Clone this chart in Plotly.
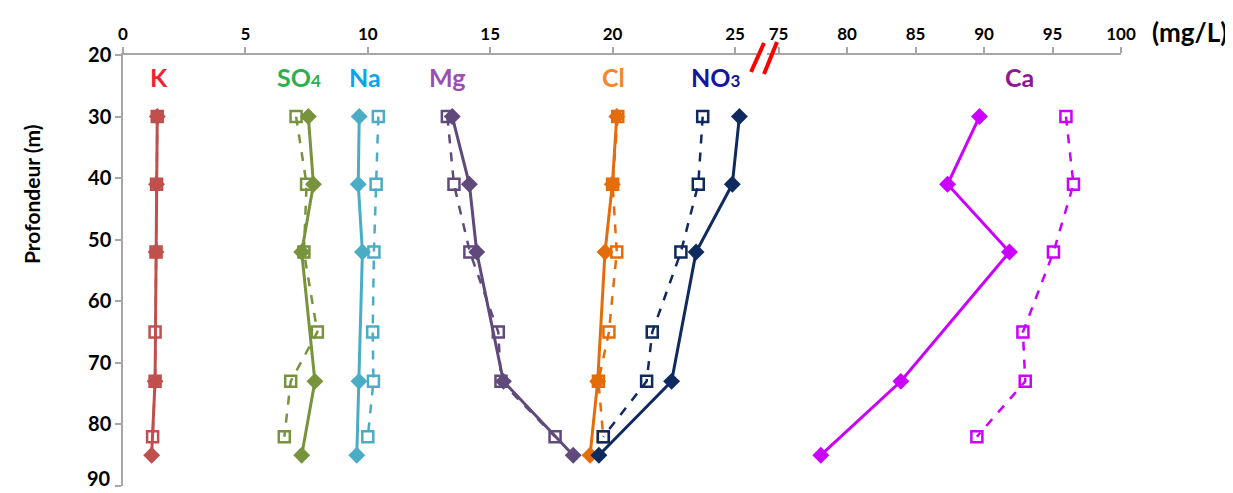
import plotly.graph_objects as go

# Depths (m)
depth_a = [30, 41, 52, 73, 85]          # solid series (diamonds)
depth_b = [30, 41, 52, 65, 73, 82]      # dashed series (open squares)

# Concentrations (mg/L) - solid series
K_a = [1.40, 1.37, 1.35, 1.31, 1.17]
SO4_a = [7.57, 7.78, 7.30, 7.84, 7.30]
Na_a = [9.65, 9.61, 9.78, 9.64, 9.55]
Mg_a = [13.45, 14.15, 14.45, 15.54, 18.39]
Cl_a = [20.17, 19.99, 19.69, 19.39, 19.08]
NO3_a = [25.18, 24.89, 23.41, 22.41, 19.44]
Ca_a = [89.67, 87.34, 91.86, 83.93, 78.09]

# Concentrations (mg/L) - dashed series
K_b = [1.40, 1.37, 1.35, 1.31, 1.31, 1.21]
SO4_b = [7.07, 7.50, 7.39, 7.94, 6.85, 6.59]
Na_b = [10.43, 10.34, 10.25, 10.20, 10.23, 10.00]
Mg_b = [13.25, 13.52, 14.17, 15.33, 15.44, 17.65]
Cl_b = [20.21, 20.00, 20.17, 19.85, 19.42, 19.62]
NO3_b = [23.68, 23.50, 22.79, 21.62, 21.39, 19.62]
Ca_b = [95.98, 96.53, 95.07, 92.84, 93.01, 89.48]

x_ticks_left = [0, 5, 10, 15, 20, 25]
x_ticks_right = [75, 80, 85, 90, 95, 100]
y_ticks = [20, 30, 40, 50, 60, 70, 80, 90]

series = [
    ("K", K_a, K_b, "#C0504D", "x"),
    ("SO4", SO4_a, SO4_b, "#77933C", "x"),
    ("Na", Na_a, Na_b, "#4BACC6", "x"),
    ("Mg", Mg_a, Mg_b, "#604A7B", "x"),
    ("Cl", Cl_a, Cl_b, "#E46C0A", "x"),
    ("NO3", NO3_a, NO3_b, "#0F2A5E", "x"),
    ("Ca", Ca_a, Ca_b, "#CC00FF", "x2"),
]

labels = [
    ("K", 1.47, "#EE2530", "x"),
    ("SO<span style='font-size:17px'>4</span>", 7.2, "#2DB04B", "x"),
    ("Na", 9.9, "#0AA5E8", "x"),
    ("Mg", 13.25, "#9A4FB0", "x"),
    ("Cl", 20.05, "#F7862A", "x"),
    ("NO<span style='font-size:17px'>3</span>", 24.2, "#1515A0", "x"),
    ("Ca", 92.6, "#8E1A91", "x2"),
]

FONT = "Lato"

fig = go.Figure()
for name, va, vb, color, xa in series:
    fig.add_trace(go.Scatter(
        x=vb, y=depth_b, xaxis=xa, yaxis="y", mode="lines+markers",
        line=dict(color=color, width=2.5, dash="dash"),
        marker=dict(symbol="square-open", size=11, color=color, line=dict(width=2.5, color=color)),
        showlegend=False, name=name + " (b)"))
    fig.add_trace(go.Scatter(
        x=va, y=depth_a, xaxis=xa, yaxis="y", mode="lines+markers",
        line=dict(color=color, width=3),
        marker=dict(symbol="diamond", size=13, color=color),
        showlegend=False, name=name))

# page body has an 8px margin: work in screen pixels, shift by OFF
OFF = 8
SW, SH = 1233, 493
W, H = SW - OFF, SH - OFF
plot_l, plot_r, plot_t, plot_b = 123, 1121, 55, 486   # screen px
L = plot_l - OFF
R = W - (plot_r - OFF)
T = plot_t - OFF
B = H - (plot_b - OFF)
pw = W - L - R
ph = H - T - B

def px_to_paper_x(px):
    return (px - plot_l) / pw

def px_to_paper_y(py):
    return (plot_b - py) / ph

d1_end = px_to_paper_x(757)
d2_start = px_to_paper_x(767)
r1_max = (757 - plot_l) / 24.48
r2_min = 100 - (plot_r - 767) / 13.7

axis_common = dict(
    showgrid=False, zeroline=False, showline=True, linecolor="#A6A6A6", linewidth=1.5,
    ticks="outside", ticklen=6, tickcolor="#A6A6A6", tickwidth=1.5,
    tickfont=dict(family=FONT, size=17, color="#000000", weight="bold"),
    side="top", anchor="y", ticklabeloverflow="allow",
)

# the last depth label sits at the bottom edge; draw it slightly raised
y_ticktext = [str(v) for v in y_ticks[:-1]] + [""]

fig.update_layout(
    width=W, height=H,
    margin=dict(l=L, r=R, t=T, b=B, autoexpand=False),
    paper_bgcolor="white", plot_bgcolor="white",
    xaxis=dict(domain=[0, d1_end], range=[0, r1_max], tickvals=x_ticks_left, **axis_common),
    xaxis2=dict(domain=[d2_start, 1], range=[r2_min, 100], tickvals=x_ticks_right, **axis_common),
    yaxis=dict(range=[90, 20], tickvals=y_ticks, ticktext=y_ticktext,
               showgrid=False, zeroline=False,
               showline=True, linecolor="#A6A6A6", linewidth=1.5,
               ticks="outside", ticklen=6, tickcolor="#A6A6A6", tickwidth=1.5,
               tickfont=dict(family=FONT, size=20, color="#000000", weight="bold"),
               anchor="x", ticklabeloverflow="allow"),
)

fig.add_annotation(x=px_to_paper_x(113), y=px_to_paper_y(478), xref="paper", yref="paper",
                   text=str(y_ticks[-1]), showarrow=False, xanchor="right", yanchor="middle",
                   font=dict(family=FONT, size=20, color="#000000", weight="bold"))

for text, xv, color, xa in labels:
    fig.add_annotation(x=xv, y=23.6, xref=xa, yref="y", text=text, showarrow=False,
                       xanchor="center", yanchor="middle",
                       font=dict(family=FONT, size=25, color=color, weight="bold"))

fig.add_annotation(x=px_to_paper_x(1189), y=px_to_paper_y(32), xref="paper", yref="paper",
                   text="(mg/L)", showarrow=False, xanchor="center", yanchor="middle",
                   font=dict(family=FONT, size=26, color="#000000", weight="bold"))
fig.add_annotation(x=px_to_paper_x(31), y=px_to_paper_y(195), xref="paper", yref="paper",
                   text="Profondeur (m)", showarrow=False, textangle=-90,
                   xanchor="center", yanchor="middle",
                   font=dict(family=FONT, size=21, color="#000000", weight="bold"))

# axis break marks
for (x0, y0, x1, y1) in [(751, 72, 764, 43), (764, 74, 777, 42)]:
    fig.add_shape(type="line", xref="paper", yref="paper",
                  x0=px_to_paper_x(x0), y0=px_to_paper_y(y0),
                  x1=px_to_paper_x(x1), y1=px_to_paper_y(y1),
                  line=dict(color="#FF0000", width=4))

fig.write_html("out.html")
